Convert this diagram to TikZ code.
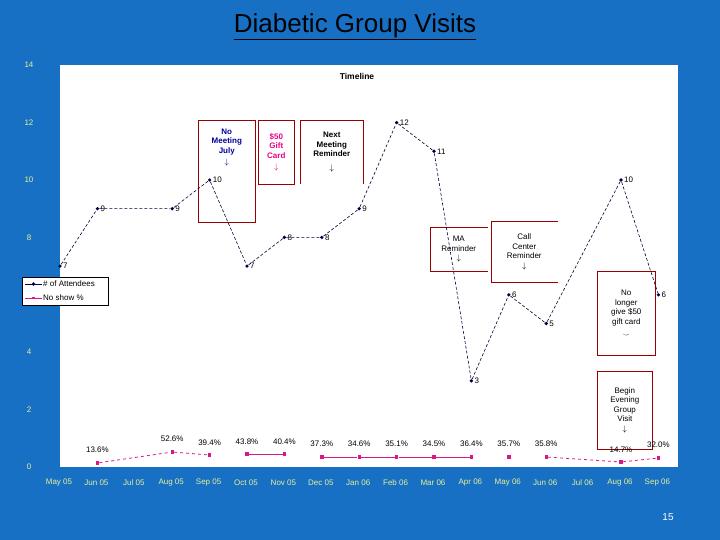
\documentclass[tikz,border=0pt]{standalone}
\usepackage{fontspec}
\setmainfont{Liberation Sans}
\usetikzlibrary{calc}
\definecolor{bgblue}{RGB}{24,112,196}
\definecolor{axyel}{RGB}{230,240,150}
\begin{document}
\begin{tikzpicture}[x=1pt,y=-1pt,
  att/.style={draw=black!80!blue,densely dashed,line width=0.6pt},
  attpt/.style={circle,fill=black!70!blue,inner sep=1.3pt},
  nsl/.style={draw=magenta!80!violet,line width=0.8pt},
  nspt/.style={fill=magenta!80!violet,inner sep=1.7pt},
  vlab/.style={font=\fontsize{8}{9}\selectfont,anchor=west,inner sep=1pt},
  plab/.style={font=\fontsize{8}{9}\selectfont,inner sep=1pt},
  note/.style={draw=red!60!black,line width=0.6pt,align=center,font=\fontsize{8}{9.5}\selectfont,inner sep=2pt},
  axl/.style={font=\fontsize{8}{9}\selectfont,text=axyel},
  ]
\fill[bgblue] (0,0) rectangle (720,540);
\useasboundingbox (0,0) rectangle (720,540);
\node[font=\fontsize{26}{30}\selectfont] (title) at (355,27) {\underline{Diabetic Group Visits}};
\node[font=\fontsize{10}{11}\selectfont,text=white] (pg) at (668,517) {15};
\fill[white] (60,65) rectangle (678,467);
\node[font=\bfseries\fontsize{8.5}{10}\selectfont] (tl) at (357,76) {Timeline};
\foreach \v in {0,2,4,6,8,10,12,14} \node[axl] at (29,{467-28.7*\v}) {\v};
\foreach \m [count=\i from 0] in {May 05,Jun 05,Jul 05,Aug 05,Sep 05,Oct 05,Nov 05,Dec 05,Jan 06,Feb 06,Mar 06,Apr 06,May 06,Jun 06,Jul 06,Aug 06,Sep 06}
  \node[axl] at ({59+37.4*\i},483) {\m};
% notes
\node[note,minimum width=57,minimum height=102,anchor=north west,text=blue!60!black,font=\bfseries\fontsize{8}{9.5}\selectfont] (n1) at (198,120) {No\\Meeting\\July\\[2pt]$\downarrow$\\[40pt]};
\node[note,minimum width=36,minimum height=64,anchor=north west,text=magenta,font=\bfseries\fontsize{8}{9.5}\selectfont] (n2) at (258,120) {\$50\\Gift\\Card\\[2pt]$\downarrow$};
\node[note,draw=none,minimum width=63,minimum height=63,anchor=north west,font=\bfseries\fontsize{8}{9.5}\selectfont] (n3) at (300,120) {Next\\Meeting\\Reminder\\[4pt]$\downarrow$};
\draw[red!60!black,line width=0.6pt] (n3.south west)--(n3.north west)--(n3.north east)--(n3.south east);
\node[note,draw=none,minimum width=57,minimum height=44,anchor=north west] (n4) at (430,227) {MA\\Reminder\\$\downarrow$};
\draw[red!60!black,line width=0.6pt] (n4.north east)--(n4.north west)--(n4.south west)--(n4.south east);
\node[note,draw=none,minimum width=66,minimum height=61,anchor=north west] (n5) at (491,221) {Call\\Center\\Reminder\\$\downarrow$};
\draw[red!60!black,line width=0.6pt] (n5.north east)--(n5.north west)--(n5.south west)--(n5.south east);
\node[note,minimum width=58,minimum height=84,anchor=north west] (n6) at (597,271) {No\\longer\\give \$50\\gift card\\[3pt]$\scriptstyle\smile$};
\node[note,minimum width=55,minimum height=78,anchor=north west] (n7) at (597,371) {Begin\\Evening\\Group\\Visit\\$\downarrow$};
% attendees
\foreach \n/\i/\v in {a1/0/7,a2/1/9,a3/3/9,a4/4/10,a5/5/7,a6/6/8,a7/7/8,a8/8/9,a9/9/12,a10/10/11,a11/11/3,a12/12/6,a13/13/5,a14/15/10,a15/16/6}{
  \node[attpt] (\n) at ({60+37.4*\i},{467-28.7*\v}) {};
  \node[vlab] at (\n.east) {\v};}
\draw[att] (a1)--(a2)--(a3)--(a4)--(a5)--(a6)--(a7)--(a8)--(a9)--(a10)--(a11)--(a12)--(a13)--(a14)--(a15);
% no show
\foreach \n/\i/\y/\p/\ly in {b1/1/463/13.6/450,b2/3/452/52.6/439,b3/4/455/39.4/443,b4/5/454/43.8/442,b5/6/454/40.4/442,b6/7/457/37.3/444,b7/8/457/34.6/444,b8/9/457/35.1/444,b9/10/457/34.5/444,b10/11/457/36.4/444,b11/12/457/35.7/444,b12/13/457/35.8/444,b13/15/462/14.7/450,b14/16/458/32.0/445}{
  \node[nspt] (\n) at ({60+37.4*\i},\y) {};
  \node[plab] at ({60+37.4*\i},\ly) {\p\%};}
\draw[nsl,dashed] (b1)--(b2)--(b3);
\draw[nsl] (b4)--(b5);
\draw[nsl] (b6)--(b7)--(b8)--(b9)--(b10);
\draw[nsl,dashed] (b12)--(b13)--(b14);
% legend
\node[draw=black,fill=white,minimum width=86,minimum height=28,anchor=north west] (lg) at (22,277) {};
\coordinate (l1a) at (25,284); \coordinate (l1b) at (42,284);
\coordinate (l2a) at (25,298); \coordinate (l2b) at (42,298);
\draw[draw=black!70!blue] (l1a)--(l1b); \node[attpt] at ($(l1a)!0.5!(l1b)$) {};
\draw[nsl] (l2a)--(l2b); \node[nspt,inner sep=1.2pt] at ($(l2a)!0.5!(l2b)$) {};
\node[vlab] at (l1b) {\# of Attendees};
\node[vlab] at (l2b) {No show \%};
\end{tikzpicture}
\end{document}
